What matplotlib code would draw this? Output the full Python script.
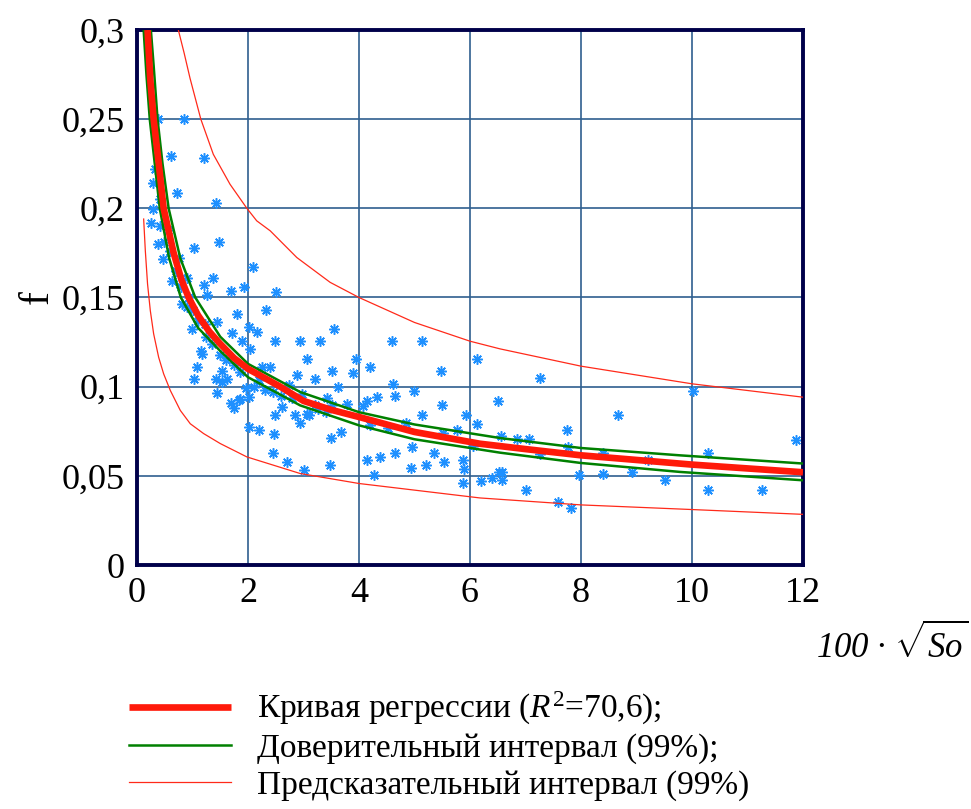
import matplotlib
matplotlib.use("Agg")
import matplotlib.pyplot as plt

plt.rcParams['font.family'] = ['Liberation Serif', 'DejaVu Serif']
plt.rcParams['mathtext.fontset'] = 'custom'
plt.rcParams['mathtext.rm'] = 'Liberation Serif'
plt.rcParams['mathtext.it'] = 'Liberation Serif:italic'

# observed points (x = 100*sqrt(So), y = f)
pts_x = [0.26, 0.28, 0.29, 0.37, 0.85, 0.61, 1.20, 0.72, 1.42, 0.41, 0.37, 0.49, 1.47, 1.03,
         0.46, 0.75, 2.09, 0.63, 0.90, 1.37, 1.20, 1.92, 1.70, 2.50, 1.27, 0.81, 0.94, 0.90,
         1.80, 2.32, 1.45, 2.01, 2.17, 0.99, 1.71, 1.90, 2.49, 2.93, 3.30, 2.04, 1.16, 1.18,
         3.07, 1.08, 2.26, 2.40, 1.54, 2.88, 1.03, 1.42, 1.63, 3.20, 1.54, 1.97, 2.11, 2.73,
         1.45, 1.86, 1.69, 1.75, 2.02, 2.62, 2.49, 2.84, 2.93, 2.01, 2.20, 3.06, 2.97, 3.27,
         3.10, 2.46, 2.45, 2.70, 3.01, 1.84,
         0.33, 0.42, 0.55, 0.60, 0.70, 0.80, 1.00, 1.10, 1.22, 1.25, 1.35, 1.50, 1.60, 1.75,
         1.85, 2.20, 2.30, 2.45, 2.60, 2.80, 3.20, 3.40,
         3.55, 4.59, 5.14, 3.95, 6.13, 3.52, 3.89, 4.20, 5.47, 3.63, 4.62, 4.99, 6.50, 4.33,
         4.64, 3.42, 3.78, 4.14, 4.07, 5.49, 3.51, 5.93, 5.14, 6.13, 3.68, 3.50, 4.19, 4.53,
         4.84, 5.52, 5.76, 4.95, 4.64, 4.37, 4.14, 5.36, 5.53, 5.87, 4.94, 5.21, 5.90, 3.48,
         4.27, 5.87, 6.19, 6.39, 6.53, 6.05, 7.27, 8.67, 7.75, 6.55, 6.85, 7.07, 7.77, 7.26,
         8.40, 9.21, 6.58, 6.58, 7.97, 8.40, 8.91, 9.52, 7.01, 7.59, 7.82, 10.02, 11.87,
         10.29, 10.29, 11.27]
pts_y = [0.192, 0.1995, 0.214, 0.250, 0.250, 0.2293, 0.2284, 0.2088, 0.2032, 0.190, 0.180,
         0.181, 0.181, 0.1775, 0.1715, 0.1724, 0.167, 0.159, 0.161, 0.161, 0.157, 0.1557,
         0.1534, 0.153, 0.1514, 0.1464, 0.1504, 0.1445, 0.1408, 0.143, 0.136, 0.1337, 0.1307,
         0.1324, 0.130, 0.1258, 0.1257, 0.1257, 0.1257, 0.121, 0.120, 0.1184, 0.1154, 0.1113,
         0.1113, 0.1113, 0.109, 0.1066, 0.1044, 0.1044, 0.1044, 0.1044, 0.1025, 0.0995, 0.0998,
         0.101, 0.0964, 0.0932, 0.0908, 0.0882, 0.0941, 0.0886, 0.0839, 0.0839, 0.0798, 0.0772,
         0.0757, 0.0848, 0.096, 0.0876, 0.0839, 0.0737, 0.063, 0.058, 0.053, 0.0927,
         0.222, 0.205, 0.188, 0.176, 0.165, 0.156, 0.143, 0.137, 0.135, 0.128, 0.124, 0.118,
         0.115, 0.112, 0.108, 0.104, 0.098, 0.097, 0.095, 0.0935, 0.090, 0.086,
         0.1324, 0.1257, 0.1257, 0.1154, 0.1154, 0.109, 0.1074, 0.1113, 0.109, 0.0996, 0.1016,
         0.0977, 0.0921, 0.0941, 0.0945, 0.0936, 0.0905, 0.092, 0.0889, 0.0899, 0.0899, 0.0839,
         0.0841, 0.079, 0.0748, 0.0714, 0.0783, 0.077, 0.0796, 0.0742, 0.0755, 0.0662, 0.063,
         0.0604, 0.0587, 0.063, 0.0578, 0.0589, 0.0546, 0.0558, 0.0541, 0.0559, 0.0502, 0.0462,
         0.0471, 0.0488, 0.0522, 0.0667, 0.1046, 0.0839, 0.0755, 0.0721, 0.0705, 0.0705,
         0.0662, 0.0625, 0.0628, 0.0591, 0.0524, 0.0474, 0.0503, 0.0513, 0.0524, 0.0479,
         0.0421, 0.0356, 0.0317, 0.0977, 0.0703, 0.0628, 0.0419, 0.0419]

# regression curve
reg_x = [0.19, 0.24, 0.30, 0.39, 0.48, 0.66, 0.80, 0.93, 1.1, 1.3, 1.5, 1.75, 2.0, 2.58, 3.0,
         3.5, 4.0, 5.0, 6.18, 7.0, 8.0, 10.0, 12.0]
reg_y = [0.30, 0.272, 0.25, 0.2256, 0.20, 0.175, 0.160, 0.15, 0.14, 0.131, 0.124, 0.116, 0.110,
         0.100, 0.092, 0.087, 0.083, 0.0746, 0.068, 0.065, 0.0615, 0.0563, 0.052]

# confidence interval (99%)
ci_up_x = [0.25, 0.30, 0.37, 0.46, 0.57, 0.78, 1.05, 1.5, 2.0, 2.94, 4.0, 5.0, 6.54, 8.0, 9.78, 12.0]
ci_up_y = [0.30, 0.28, 0.25, 0.225, 0.20, 0.172, 0.15, 0.128, 0.1128, 0.097, 0.0857, 0.0788,
           0.0712, 0.0656, 0.0615, 0.0569]
ci_lo_x = [0.12, 0.17, 0.23, 0.32, 0.41, 0.58, 0.79, 1.1, 1.5, 2.0, 2.94, 4.0, 5.0, 6.54, 8.0, 9.78, 12.0]
ci_lo_y = [0.30, 0.275, 0.25, 0.225, 0.20, 0.172, 0.15, 0.133, 0.120, 0.1053, 0.0895, 0.0783,
           0.0705, 0.063, 0.0572, 0.0522, 0.0475]

# prediction interval (99%)
pi_up_x = [0.745, 0.85, 0.955, 1.15, 1.375, 1.676, 1.98, 2.157, 2.40, 2.88, 3.48, 4.0, 5.0, 6.0,
           6.54, 8.0, 10.0, 12.0]
pi_up_y = [0.30, 0.287, 0.273, 0.25, 0.2303, 0.2135, 0.20, 0.193, 0.1874, 0.1724, 0.1585, 0.150,
           0.136, 0.1255, 0.1212, 0.1115, 0.1016, 0.0941]
pi_lo_x = [0.12, 0.15, 0.19, 0.24, 0.30, 0.39, 0.48, 0.60, 0.78, 0.96, 1.20, 1.50, 1.98, 2.94,
           4.0, 6.18, 8.0, 10.0, 12.0]
pi_lo_y = [0.194, 0.1762, 0.1576, 0.1426, 0.1296, 0.1165, 0.1072, 0.0979, 0.0867, 0.0792, 0.0737,
           0.0681, 0.0606, 0.0513, 0.0457, 0.0376, 0.0337, 0.0311, 0.0284]

xticks = [0, 2, 4, 6, 8, 10, 12]
yticks = [0, 0.05, 0.1, 0.15, 0.2, 0.25, 0.3]
ytick_labels = ['0', '0,05', '0,1', '0,15', '0,2', '0,25', '0,3']

labels = ['Кривая регрессии ($\\mathit{R}^{2}$=70,6);',
          'Доверительный интервал (99%);',
          'Предсказательный интервал (99%)']

fig = plt.figure(figsize=(9.71, 8.09), dpi=100)
ax = fig.add_axes([137 / 971, 244 / 809, 666 / 971, 535 / 809])

ax.grid(True, color='#2F5F8F', lw=1.2)
ax.set_axisbelow(True)

ax.plot(pts_x, pts_y, ls='none', marker=(8, 2, 0), ms=7.5, mew=1.1, color='#1E90FF', zorder=2)

l1, = ax.plot(reg_x, reg_y, color='#FF1A0A', lw=4.8, zorder=4, solid_capstyle='butt')
l2, = ax.plot(ci_up_x, ci_up_y, color='#008000', lw=1.8, zorder=3)
ax.plot(ci_lo_x, ci_lo_y, color='#008000', lw=1.8, zorder=3)
l3, = ax.plot(pi_up_x, pi_up_y, color='#FF2A1A', lw=0.9, zorder=3)
ax.plot(pi_lo_x, pi_lo_y, color='#FF2A1A', lw=0.9, zorder=3)

ax.set_xlim(0, 12)
ax.set_ylim(0, 0.3)
ax.set_xticks(xticks)
ax.set_yticks(yticks)
ax.set_yticklabels(ytick_labels)
ax.tick_params(length=0, labelsize=26, pad=9)
for s in ax.spines.values():
    s.set_color('#00004A')
    s.set_linewidth(2.8)

ax.set_ylabel('f', fontsize=30, labelpad=3)
fig.text(0.997, 1 - 645 / 809, '100 · $\\sqrt{\\mathit{So}}$', fontsize=25, style='italic',
         ha='right', va='center')

fig.legend([l1, l2, l3], labels, loc='upper left', bbox_to_anchor=(116 / 971, 1 - 677 / 809),
           frameon=False, fontsize=24, handlelength=3.06, handletextpad=0.78, labelspacing=0.18,
           borderaxespad=0)

fig.savefig('out.png', dpi=100)
